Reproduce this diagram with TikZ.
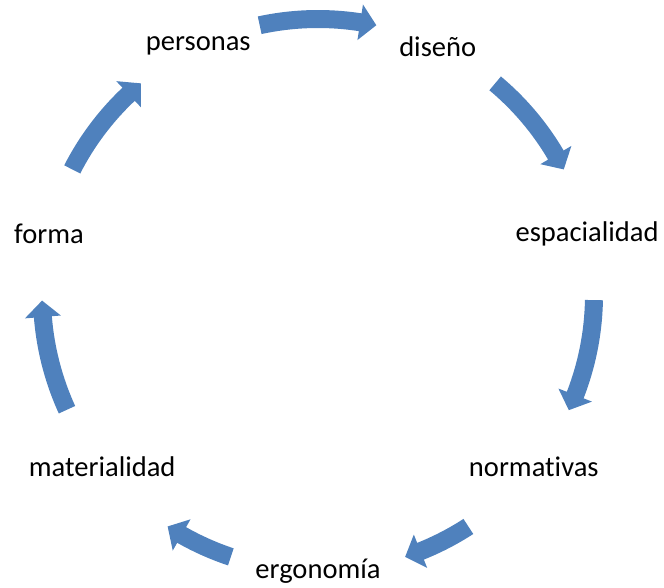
\documentclass[tikz,border=0pt]{standalone}
\usepackage{fontspec}
\setmainfont{Carlito}[RawFeature=-liga]
\definecolor{cycleblue}{RGB}{79,129,189}
\tikzset{
    stage/.style={font=\fontsize{21.4}{25}\selectfont, text=black, inner sep=0pt},
    cyclearrow/.style={fill=cycleblue, draw=none}
}
\begin{document}
\begin{tikzpicture}[x=0.75pt, y=0.75pt]
    \pgfmathsetmacro\radius{276};
    \pgfmathsetmacro\outer{\radius + 9};
    \pgfmathsetmacro\inner{\radius - 9};
    \pgfmathsetmacro\headout{\radius + 18};
    \pgfmathsetmacro\headin{\radius - 18};
    \pgfmathsetmacro\headangle{3.4};

    \useasboundingbox (-318, -292) rectangle (346, 295);

    % the seven stages, clockwise from the top left
    \node[stage] (personas) at (115.71:\radius) {personas};
    \node[stage] (diseno) at (64.29:\radius) {diseño};
    \node[stage] (espacialidad) at (12.86:\radius) {espacialidad};
    \node[stage] (normativas) at (-38.57:\radius) {normativas};
    \node[stage] (ergonomia) at (-90:\radius) {ergonomía};
    \node[stage] (materialidad) at (-141.43:\radius) {materialidad};
    \node[stage] (forma) at (167.14:\radius) {forma};

    % curved arrows between the stages
    \foreach \mid/\half in {90/12.2, 38.57/11.5, -12.86/11.8, -64.29/7.3,
        -115.71/7.3, -167.14/11.7, 141.43/11.5}
    {
        \pgfmathsetmacro\tailangle{\mid + \half}
        \pgfmathsetmacro\tipangle{\mid - \half}
        \pgfmathsetmacro\baseangle{\tipangle + \headangle}
        \fill[cyclearrow] (\tailangle:\outer)
            arc[start angle=\tailangle, end angle=\baseangle, radius=\outer]
            -- (\baseangle:\headout) -- (\tipangle:\radius)
            -- (\baseangle:\headin) -- (\baseangle:\inner)
            arc[start angle=\baseangle, end angle=\tailangle, radius=\inner]
            -- cycle;
    }
\end{tikzpicture}
\end{document}
